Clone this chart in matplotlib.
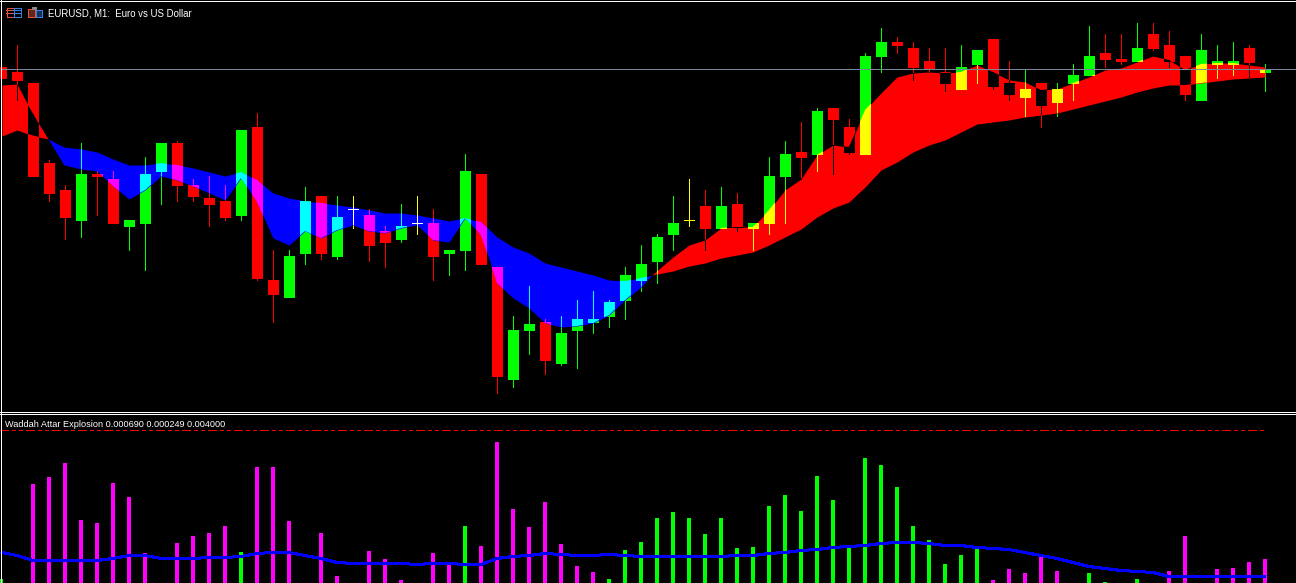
import numpy as np
import matplotlib
matplotlib.use("Agg")
import matplotlib.pyplot as plt
from matplotlib.patches import Rectangle

RED = "#ff0000"
GREEN = "#00ff00"
BLUE = "#0000ff"
YELLOW = "#ffff00"
MAGENTA = "#ff00ff"
CYAN = "#00ffff"
GREY = "#778899"

# candles (screen rows, small = higher price)
candle_x = [1, 17, 33, 49, 65, 81, 97, 113, 129, 145, 161, 177, 193, 209, 225, 241,
            257, 273, 289, 305, 321, 337, 353, 369, 385, 401, 417, 433, 449, 465, 481, 497,
            513, 529, 545, 561, 577, 593, 609, 625, 641, 657, 673, 689, 705, 721, 737, 753,
            769, 785, 801, 817, 833, 849, 865, 881, 897, 913, 929, 945, 961, 977, 993, 1009,
            1025, 1041, 1057, 1073, 1089, 1105, 1121, 1137, 1153, 1169, 1185, 1201, 1217, 1233, 1249, 1265]
body_top = [67, 72, 83, 163, 190, 174, 174, 179, 220, 174, 143, 143, 185, 198, 201, 130,
            127, 280, 256, 201, 196, 217, 209, 215, 231, 226, 223, 223, 250, 171, 174, 267,
            330, 324, 322, 333, 319, 319, 302, 275, 264, 237, 223, 220, 206, 206, 204, 223,
            176, 154, 152, 111, 108, 127, 56, 42, 42, 48, 61, 72, 67, 50, 39, 83,
            89, 83, 89, 75, 56, 53, 59, 48, 34, 45, 56, 50, 61, 61, 48, 69]
body_bot = [79, 81, 177, 194, 218, 221, 177, 224, 227, 224, 172, 186, 197, 205, 218, 216,
            279, 295, 298, 254, 254, 257, 210, 246, 243, 240, 224, 257, 254, 251, 265, 377,
            380, 331, 361, 364, 331, 323, 317, 301, 281, 262, 235, 221, 229, 229, 228, 229,
            224, 177, 158, 155, 120, 153, 155, 57, 46, 68, 70, 84, 90, 65, 87, 95,
            98, 106, 103, 84, 76, 60, 62, 62, 49, 62, 95, 101, 65, 65, 63, 73]
wick_top = [67, 45, 83, 160, 185, 143, 171, 171, 220, 157, 143, 141, 179, 176, 185, 130,
            113, 250, 250, 187, 196, 196, 196, 209, 226, 204, 196, 209, 250, 154, 174, 267,
            316, 286, 319, 316, 300, 291, 300, 267, 245, 234, 196, 179, 190, 187, 193, 223,
            157, 141, 122, 108, 108, 119, 53, 28, 37, 42, 48, 48, 45, 50, 39, 61,
            70, 83, 83, 64, 26, 34, 34, 23, 23, 31, 56, 34, 45, 42, 45, 64]
wick_bot = [79, 101, 177, 202, 240, 238, 216, 224, 251, 271, 205, 202, 202, 227, 221, 221,
            281, 323, 298, 265, 260, 260, 229, 262, 268, 243, 235, 281, 276, 271, 265, 394,
            388, 355, 375, 366, 369, 334, 328, 320, 292, 284, 251, 227, 251, 229, 232, 251,
            235, 224, 180, 172, 175, 155, 155, 73, 54, 81, 72, 92, 90, 84, 90, 101,
            117, 128, 117, 101, 76, 68, 65, 62, 51, 68, 101, 101, 79, 76, 78, 92]
green_candles = [81, 129, 145, 161, 241, 289, 305, 337, 401, 449, 465, 513, 529, 561, 577, 593, 609, 625, 641, 657, 673,
                 721, 753, 769, 785, 817, 865, 881, 961, 977, 1025, 1057, 1073, 1089, 1137, 1201, 1217, 1233, 1265]
doji_candles = [353, 417, 689]

# ribbon: fast and slow average, three stretches
band_x = [2, 17, 28, 39, 48, 64, 81, 97, 113, 129, 145, 161, 177, 193, 209, 225, 241, 257, 273, 289,
          305, 321, 337, 353, 369, 385, 401, 417, 433, 449, 465, 481, 497, 513, 529, 545, 561, 577, 593,
          609, 625, 641, 652, 673, 689, 705, 721, 737, 753, 769, 785, 801, 817, 833, 849, 865, 881, 897,
          913, 929, 945, 961, 977, 993, 1009, 1025, 1041, 1057, 1073, 1089, 1105, 1121, 1137, 1153, 1169,
          1185, 1201, 1217, 1233, 1249, 1265]
band_fast = [85, 84, 105, 124, 139, 165, 169, 171, 186, 199, 190, 176, 180, 186, 193, 200, 178, 202, 238, 245,
             231, 238, 230, 225, 231, 233, 228, 225, 240, 242, 218, 235, 283, 298, 308, 323, 327, 326, 323,
             315, 300, 287, 275, 257, 245, 240, 228, 227, 227, 210, 190, 179, 155, 145, 147, 110, 93, 77,
             73, 72, 73, 72, 65, 72, 80, 82, 90, 89, 83, 77, 70, 68, 62, 56, 60,
             70, 64, 63, 63, 65, 67]
band_slow = [136, 130, 134, 137, 139, 147, 149, 152, 159, 165, 165, 163, 165, 168, 172, 176, 172, 180, 193, 198,
             201, 203, 205, 207, 210, 213, 213, 215, 218, 221, 218, 222, 237, 247, 253, 263, 267, 271, 275,
             280, 281, 278, 275, 271, 266, 263, 258, 255, 252, 245, 237, 229, 217, 208, 202, 187, 170, 162,
             152, 145, 140, 132, 124, 122, 120, 117, 115, 113, 109, 105, 101, 97, 92, 88, 85,
             85, 83, 81, 79, 78, 77]

# lower pane
hist_x = [1, 33, 49, 65, 81, 97, 113, 129, 145, 177, 193, 209, 225, 241, 257, 273, 289, 321, 337, 369, 385, 401,
          433, 449, 465, 481, 497, 513, 529, 545, 561, 577, 593, 609, 625, 641, 657, 673, 689, 705, 721, 737, 753,
          769, 785, 801, 817, 833, 849, 865, 881, 897, 913, 929, 945, 961, 977, 993, 1009, 1025, 1041, 1057,
          1089, 1105, 1137, 1169, 1185, 1217, 1233, 1249, 1265]
hist_top = [579, 484, 477, 463, 520, 523, 483, 497, 553, 543, 536, 533, 526, 552, 467, 467, 521, 533, 576, 551, 559, 580,
            553, 564, 526, 546, 442, 509, 527, 502, 544, 566, 572, 579, 550, 542, 518, 512, 518, 534, 518, 548, 547,
            506, 495, 511, 476, 500, 547, 458, 465, 487, 526, 540, 564, 555, 548, 580, 569, 573, 554, 571,
            573, 582, 579, 571, 536, 569, 568, 562, 559]
hist_green = [1, 241, 465, 609, 625, 641, 657, 673, 689, 705, 721, 737, 753, 769, 785, 801, 817, 833, 849, 865, 881,
              897, 913, 929, 945, 961, 977, 1089, 1105, 1137]
signal_x = [2, 17, 33, 49, 65, 81, 97, 113, 129, 145, 161, 177, 193, 209, 225, 241, 257, 273, 289, 305, 321, 337, 353,
            369, 385, 401, 417, 433, 449, 465, 481, 497, 513, 529, 545, 561, 577, 593, 609, 625, 641, 657, 673, 689,
            705, 721, 737, 753, 769, 785, 801, 817, 833, 849, 865, 881, 897, 913, 929, 945, 961, 977, 993, 1009, 1025,
            1041, 1057, 1073, 1089, 1105, 1121, 1137, 1153, 1169, 1185, 1201, 1217, 1233, 1249, 1265]
signal_y = [552, 555, 560, 560, 560, 560, 560, 558, 555, 555, 558, 558, 558, 557, 557, 556, 553, 552, 552, 555, 558, 562, 563,
            563, 563, 563, 564, 563, 563, 564, 564, 558, 556, 555, 553, 554, 555, 555, 554, 555, 556, 556, 556, 556,
            556, 556, 555, 555, 553, 552, 550, 549, 547, 546, 545, 543, 542, 542, 543, 545, 545, 547, 548, 549, 552,
            555, 558, 562, 566, 568, 570, 571, 572, 576, 576, 576, 576, 576, 576, 576]
level_y = 430
price_y = 69

candle_color = [YELLOW if x in doji_candles else GREEN if x in green_candles else RED for x in candle_x]

# the terminal paints the ribbon in xor mode, so overlaps change colour
xor = {(RED, RED): "#000000", (GREEN, RED): YELLOW, (YELLOW, RED): GREEN,
       (RED, BLUE): MAGENTA, (GREEN, BLUE): CYAN, (YELLOW, BLUE): "#ffffff"}

fig = plt.figure(figsize=(12.96, 5.83), dpi=100, facecolor="black")
ax = fig.add_axes([0, 0, 1, 1])
ax.set_xlim(0, 1296)
ax.set_ylim(583, 0)
ax.set_facecolor("black")
ax.axis("off")

cx = np.array(candle_x) + 0.5
top = np.array(body_top)
bot = np.array(body_bot)
wtop = np.array(wick_top)
wbot = np.array(wick_bot)


def draw_candles(clip=None, band_color=None):
    colors = candle_color
    if band_color:
        colors = [xor[(c, band_color)] for c in candle_color]
    wicks = ax.bar(cx, wbot - wtop, bottom=wtop, width=1, color=colors, linewidth=0, antialiased=False)
    bodies = ax.bar(cx, bot - top, bottom=top, width=11, color=colors, linewidth=0, antialiased=False)
    if clip is not None:
        for p in list(wicks) + list(bodies):
            p.set_clip_path(clip, ax.transData)


def hline(y, x0, x1, color, **kw):
    ax.plot([x0, x1], [y + 0.5, y + 0.5], color=color, lw=0.72, antialiased=False, snap=False, **kw)


def vline(x, y0, y1, color):
    ax.plot([x + 0.5, x + 0.5], [y0, y1], color=color, lw=0.72, antialiased=False, snap=False)


draw_candles()

bx = np.array(band_x)
fast = np.array(band_fast)
slow = np.array(band_slow)
for mask, col in [(bx <= 48, RED), ((bx >= 48) & (bx <= 652), BLUE), (bx >= 652, RED)]:
    poly = ax.fill_between(bx[mask], fast[mask], slow[mask], color=col, linewidth=0, antialiased=False)
    draw_candles(poly.get_paths()[0], col)

hline(price_y, 2, 1296, GREY)

# lower pane
hist_colors = [GREEN if x in hist_green else MAGENTA for x in hist_x]
ax.bar(hist_x, 583 - np.array(hist_top), bottom=hist_top, width=4, color=hist_colors,
       linewidth=0, antialiased=False)
ax.plot(signal_x, np.array(signal_y) + 0.5, color=BLUE, lw=1.44, antialiased=False)
# dash lengths scale with lw, so these are pixels here
hline(level_y, 0, 1264, RED, dash_capstyle="butt", linestyle=(0, (9, 3, 3, 3, 3, 3)))

# window frame
hline(1, 0, 1296, "white")
vline(1, 1, 413, "white")
hline(412, 0, 1296, "white")
hline(414, 0, 1296, "white")
vline(1, 414, 583, "white")

# little toolbar icons
icon_red = "#e8503a"
icon_blue = "#3a80e8"
ax.add_patch(Rectangle((6.5, 7.5), 7, 9, fill=False, ec=icon_red, lw=0.72, antialiased=False))
ax.add_patch(Rectangle((13.5, 7.5), 7, 9, fill=False, ec=icon_blue, lw=0.72, antialiased=False))
for yy in [10, 13]:
    hline(yy, 7, 13, icon_red)
    hline(yy, 14, 20, icon_blue)
ax.add_patch(Rectangle((27.5, 8.5), 7, 8, fc="#5a2a20", ec=icon_red, lw=0.72, antialiased=False))
ax.add_patch(Rectangle((35.5, 9.5), 6, 7, fc="#12345a", ec=icon_blue, lw=0.72, antialiased=False))
ax.add_patch(Rectangle((32, 7), 5, 3, fc="#8a8a8a", ec="#8a8a8a", lw=0, antialiased=False))

ax.text(47.5, 16.2, "EURUSD, M1:  Euro vs US Dollar", color="white", fontsize=6.9,
        family="Liberation Sans", va="baseline", ha="left")
ax.text(5, 427.2, "Waddah Attar Explosion 0.000690 0.000249 0.004000", color="white", fontsize=6.6,
        family="Liberation Sans", va="baseline", ha="left")

fig.savefig("out.png", dpi=100, facecolor="black")
